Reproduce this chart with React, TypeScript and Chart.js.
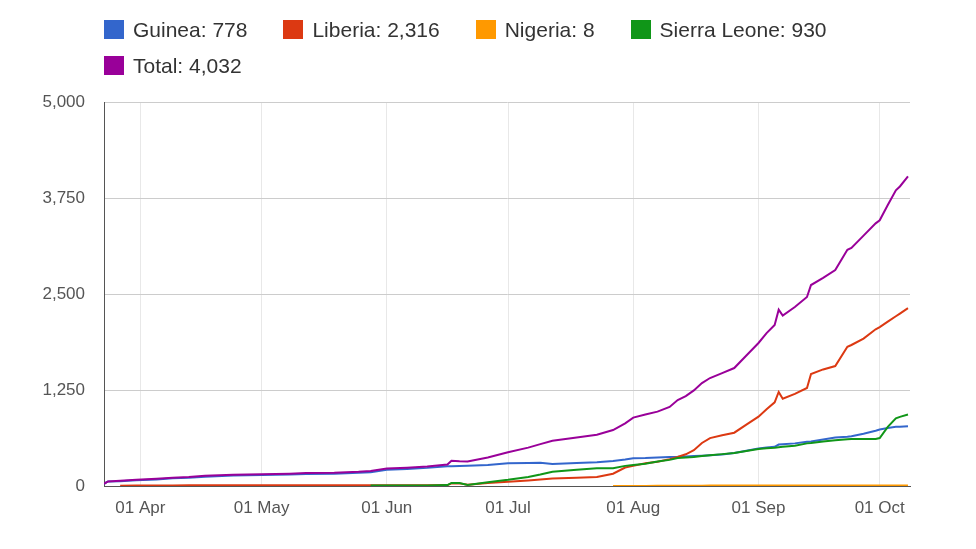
import React, { useEffect, useRef } from 'react';
import { Chart, registerables } from 'chart.js';

Chart.register(...registerables);

// ---- Data (cumulative deaths) ----
const dates = [
  '2014-03-23', '2014-03-24', '2014-03-27', '2014-03-31', '2014-04-05', '2014-04-09',
  '2014-04-13', '2014-04-17', '2014-04-24', '2014-05-01', '2014-05-08', '2014-05-12',
  '2014-05-19', '2014-05-25', '2014-05-28', '2014-06-01', '2014-06-06', '2014-06-11',
  '2014-06-16', '2014-06-17', '2014-06-19', '2014-06-21', '2014-06-26', '2014-07-01',
  '2014-07-06', '2014-07-09', '2014-07-12', '2014-07-18', '2014-07-23', '2014-07-27',
  '2014-07-30', '2014-08-01', '2014-08-04', '2014-08-07', '2014-08-10', '2014-08-12',
  '2014-08-14', '2014-08-16', '2014-08-18', '2014-08-20', '2014-08-23', '2014-08-26',
  '2014-08-29', '2014-09-01', '2014-09-03', '2014-09-05', '2014-09-06', '2014-09-07',
  '2014-09-10', '2014-09-13', '2014-09-14', '2014-09-17', '2014-09-20', '2014-09-23',
  '2014-09-24', '2014-09-27', '2014-09-30', '2014-10-01', '2014-10-03', '2014-10-05',
  '2014-10-06', '2014-10-08',
];

const guinea = [
  29, 59, 63, 74, 86, 101,
  106, 121, 136, 143, 149, 157,
  160, 174, 180, 210, 222, 236,
  256, 258, 260, 264, 275, 295,
  300, 303, 286, 300, 308, 325,
  345, 362, 365, 372, 378, 380,
  385, 390, 394, 400, 410, 430,
  460, 490, 500, 510, 540, 545,
  555, 575, 580, 605, 630, 640,
  648, 680, 720, 735, 755, 770,
  772, 778,
];

const liberia = [
  null, null, 4, 6, 7, 7,
  10, 11, 11, 11, 11, 11,
  11, 11, 11, 11, 11, 11,
  12, 34, 34, 16, 38, 56,
  72, 84, 98, 108, 118, 160,
  240, 262, 295, 317, 350, 378,
  413, 466, 560, 624, 660, 694,
  800, 903, 1000, 1089, 1224, 1137,
  1200, 1276, 1459, 1518, 1562, 1812,
  1836, 1920, 2040, 2070, 2140, 2210,
  2245, 2316,
];

const nigeria = [
  null, null, null, null, null, null,
  null, null, null, null, null, null,
  null, null, null, null, null, null,
  null, null, null, null, null, null,
  null, null, null, null, null, 1,
  1, 1, 1, 2, 2, 3,
  4, 4, 4, 5, 5, 5,
  6, 6, 6, 6, 7, 7,
  7, 8, 8, 8, 8, 8,
  8, 8, 8, 8, 8, 8,
  8, 8,
];

const sierraLeone = [
  null, null, null, null, null, null,
  null, null, null, null, null, null,
  null, null, 5, 6, 6, 8,
  12, 40, 40, 14, 50, 80,
  118, 150, 186, 210, 230, 232,
  262, 273, 290, 320, 340, 364,
  370, 378, 390, 400, 415, 430,
  455, 482, 490, 499, 505, 510,
  525, 555, 560, 580, 595, 610,
  612, 612, 612, 625, 770, 880,
  900, 930,
];

const total = [
  29, 59, 67, 80, 93, 108,
  116, 132, 147, 154, 160, 168,
  171, 185, 196, 227, 239, 255,
  280, 330, 322, 318, 372, 440,
  500, 545, 590, 630, 668, 729,
  816, 890, 930, 968, 1030, 1120,
  1170, 1245, 1340, 1406, 1470, 1536,
  1700, 1862, 1990, 2096, 2296, 2218,
  2330, 2461, 2617, 2710, 2812, 3075,
  3100, 3260, 3420, 3460, 3660, 3850,
  3900, 4032,
];

const seriesNames = ['Guinea', 'Liberia', 'Nigeria', 'Sierra Leone', 'Total'];
const seriesValues = [guinea, liberia, nigeria, sierraLeone, total];
const seriesColors = ['#3366cc', '#dc3912', '#ff9900', '#109618', '#990099'];

const yTicks = [0, 1250, 2500, 3750, 5000];
const xTickDates = ['2014-04-01', '2014-05-01', '2014-06-01', '2014-07-01', '2014-08-01', '2014-09-01', '2014-10-01'];
const xTickLabels = ['01 Apr', '01 May', '01 Jun', '01 Jul', '01 Aug', '01 Sep', '01 Oct'];

// ---- helpers ----
const EPOCH = Date.UTC(2014, 2, 22);
const dayOf = (s: string) => {
  const [y, m, d] = s.split('-').map(Number);
  return (Date.UTC(y, m - 1, d) - EPOCH) / 86400000;
};
const lastValue = (arr: (number | null)[]) => {
  for (let i = arr.length - 1; i >= 0; i--) if (arr[i] != null) return arr[i] as number;
  return 0;
};

const FONT = 'Arial, "Liberation Sans", sans-serif';

export default function App() {
  const canvasRef = useRef<HTMLCanvasElement | null>(null);

  useEffect(() => {
    document.body.style.margin = '0';
    const canvas = canvasRef.current;
    if (!canvas) return;

    const xDays = dates.map(dayOf);
    const tickDays = xTickDates.map(dayOf);

    const datasets = seriesNames.map((name, i) => ({
      label: name,
      data: seriesValues[i]
        .map((v, j) => (v == null ? null : { x: xDays[j], y: v }))
        .filter((p) => p !== null) as { x: number; y: number }[],
      borderColor: seriesColors[i],
      backgroundColor: seriesColors[i],
      borderWidth: 2,
      pointRadius: 0,
      pointHoverRadius: 0,
      tension: 0,
      fill: false,
      order: seriesNames.length - 1 - i,
    }));

    const chart = new Chart(canvas, {
      type: 'line',
      data: { datasets },
      options: {
        animation: false,
        responsive: false,
        devicePixelRatio: 1,
        layout: { padding: { top: 102, right: 66, left: 0, bottom: 0 } },
        plugins: {
          legend: { display: false },
          tooltip: { enabled: false },
        },
        scales: {
          x: {
            type: 'linear',
            min: xDays[0],
            max: xDays[xDays.length - 1] + 0.5,
            afterBuildTicks: (scale: any) => {
              scale.ticks = tickDays.map((v) => ({ value: v }));
            },
            afterFit: (scale: any) => {
              scale.height = 63;
            },
            ticks: {
              autoSkip: false,
              maxRotation: 0,
              padding: 12,
              color: '#555',
              font: { family: FONT, size: 17 },
              callback: (value: any) => {
                const idx = tickDays.indexOf(Number(value));
                return idx >= 0 ? xTickLabels[idx] : '';
              },
            },
            grid: { color: '#e8e8e8', lineWidth: 1, drawTicks: false },
            border: { display: true, color: '#555', width: 1 },
          },
          y: {
            type: 'linear',
            min: 0,
            max: 5000,
            afterBuildTicks: (scale: any) => {
              scale.ticks = yTicks.map((v) => ({ value: v }));
            },
            afterFit: (scale: any) => {
              scale.width = 104;
            },
            ticks: {
              padding: 19,
              color: '#555',
              font: { family: FONT, size: 17 },
              callback: (value: any) => Number(value).toLocaleString('en-US'),
            },
            grid: {
              color: (ctx: any) => (ctx.tick && ctx.tick.value === 0 ? '#555' : '#cccccc'),
              lineWidth: 1,
              drawTicks: false,
            },
            border: { display: true, color: '#555', width: 1 },
          },
        },
      },
    } as any);

    return () => chart.destroy();
  }, []);

  return (
    <div style={{ position: 'relative', width: 976, height: 549, background: '#fff', fontFamily: FONT }}>
      <div
        style={{
          position: 'absolute',
          left: 104,
          top: 19,
          width: 800,
          display: 'flex',
          flexWrap: 'wrap',
          columnGap: 36,
          rowGap: 15,
          fontSize: 21,
          color: '#333',
        }}
      >
        {seriesNames.map((name, i) => (
          <div
            key={name}
            style={{ display: 'flex', alignItems: 'center', height: 21, lineHeight: '21px', whiteSpace: 'nowrap' }}
          >
            <span
              style={{
                display: 'inline-block',
                width: 20,
                height: 19,
                background: seriesColors[i],
                marginRight: 9,
              }}
            />
            {`${name}: ${lastValue(seriesValues[i]).toLocaleString('en-US')}`}
          </div>
        ))}
      </div>
      <canvas ref={canvasRef} width={976} height={549} style={{ display: 'block' }} />
    </div>
  );
}
